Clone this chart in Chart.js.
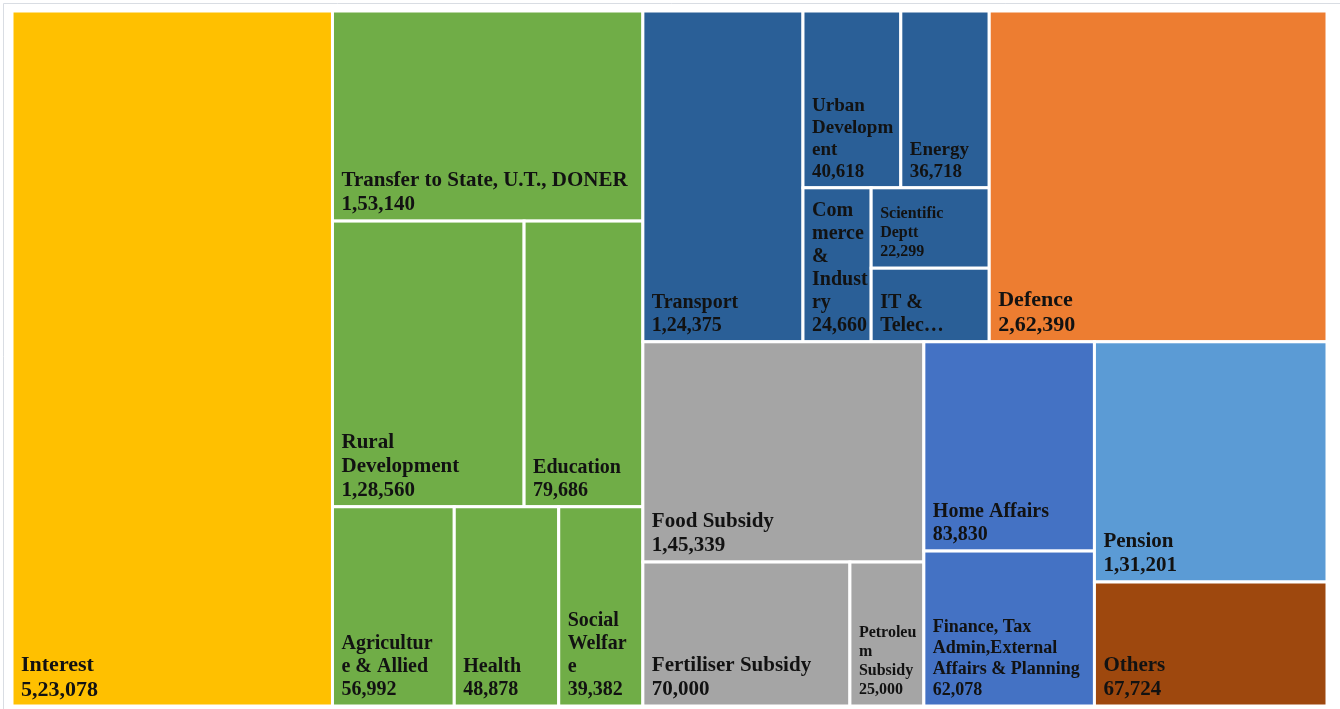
<!DOCTYPE html>
<html>
<head>
<meta charset="utf-8">
<script src="https://cdn.jsdelivr.net/npm/chart.js@4.4.1/dist/chart.umd.min.js"></script>
<style>
    html, body { margin: 0; padding: 0; background: #ffffff; }
    #wrap { position: relative; width: 1340px; height: 709px; }
</style>
</head>
<body>
<div id="wrap"><canvas id="treeChart"></canvas></div>
<script>
// Expenditure heads (Rs crore)
const categories = [
    'Interest', 'Transfer to State, U.T., DONER', 'Rural Development', 'Education',
    'Agriculture & Allied', 'Health', 'Social Welfare', 'Transport', 'Urban Development',
    'Energy', 'Commerce & Industry', 'Scientific Deptt', 'IT & Telecom', 'Defence',
    'Food Subsidy', 'Fertiliser Subsidy', 'Petroleum Subsidy', 'Home Affairs',
    'Finance, Tax Admin,External Affairs & Planning', 'Pension', 'Others'
];
const amounts = [
    523078, 153140, 128560, 79686, 56992, 48878, 39382, 124375, 40618,
    36718, 24660, 22299, 20400, 262390, 145339, 70000, 25000, 83830,
    62078, 131201, 67724
];
// label text as wrapped in the picture
const labelLines = [
    ['Interest'], ['Transfer to State, U.T., DONER'], ['Rural', 'Development'], ['Education'],
    ['Agricultur', 'e & Allied'], ['Health'], ['Social', 'Welfar', 'e'], ['Transport'],
    ['Urban', 'Developm', 'ent'], ['Energy'], ['Com', 'merce', '&', 'Indust', 'ry'],
    ['Scientific', 'Deptt'], ['IT &', 'Telec\u2026'], ['Defence'], ['Food Subsidy'],
    ['Fertiliser Subsidy'], ['Petroleu', 'm', 'Subsidy'], ['Home Affairs'],
    ['Finance, Tax', 'Admin,External', 'Affairs & Planning'], ['Pension'], ['Others']
];
// IT & Telecom label is cut off, so its value is not shown
const showValue = categories.map((c, i) => i !== 12);

// grouping: 'row' = side by side, 'col' = stacked
const tree = ['row',
    0,
    ['col', 1, ['row', 2, 3], ['row', 4, 5, 6]],
    ['col',
        ['row',
            ['row', 7, ['col', ['row', 8, 9], ['row', 10, ['col', 11, 12]]]],
            13],
        ['row',
            ['col', 14, ['row', 15, 16]],
            ['col', 17, 18],
            ['col', 19, 20]]
    ]
];

// styles
const cellColors = [
    '#FFC000', '#70AD47', '#70AD47', '#70AD47', '#70AD47', '#70AD47', '#70AD47',
    '#2A5F97', '#2A5F97', '#2A5F97', '#2A5F97', '#2A5F97', '#2A5F97', '#ED7D31',
    '#A5A5A5', '#A5A5A5', '#A5A5A5', '#4472C4', '#4472C4', '#5B9BD5', '#9E480E'
];
const fontSizes = [22, 21, 21, 20, 20, 20, 20, 20, 19, 19, 20, 16, 20, 22, 21, 21, 16, 20, 18, 21, 21];

function indianFormat(n) {
    const s = String(n);
    if (s.length <= 3) return s;
    let head = s.slice(0, -3);
    const tail = s.slice(-3);
    const parts = [];
    while (head.length > 2) {
        parts.unshift(head.slice(-2));
        head = head.slice(0, -2);
    }
    if (head) parts.unshift(head);
    return parts.join(',') + ',' + tail;
}

function nodeSum(n) {
    if (typeof n === 'number') return amounts[n];
    return n.slice(1).reduce((s, c) => s + nodeSum(c), 0);
}

// slice layout in data units (0..1 on both axes)
function place(n, x0, y0, x1, y1, out) {
    if (typeof n === 'number') {
        out[n] = { x0, y0, x1, y1 };
        return;
    }
    const total = nodeSum(n);
    let pos = n[0] === 'row' ? x0 : y0;
    n.slice(1).forEach(child => {
        const frac = nodeSum(child) / total;
        if (n[0] === 'row') {
            const end = pos + (x1 - x0) * frac;
            place(child, pos, y0, end, y1, out);
            pos = end;
        } else {
            const end = pos + (y1 - y0) * frac;
            place(child, x0, pos, x1, end, out);
            pos = end;
        }
    });
}

const cells = [];
place(tree, 0, 0, 1, 1, cells);

const treemapPlugin = {
    id: 'treemapCells',
    beforeDraw(chart) {
        const c = chart.ctx;
        c.save();
        c.fillStyle = '#ffffff';
        c.fillRect(0, 0, chart.width, chart.height);
        c.strokeStyle = '#d9dde3';
        c.lineWidth = 1;
        c.beginPath();
        c.moveTo(3.5, chart.height);
        c.lineTo(3.5, 3.5);
        c.lineTo(chart.width, 3.5);
        c.stroke();
        c.restore();
    },
    afterDatasetsDraw(chart) {
        const c = chart.ctx;
        const xs = chart.scales.x;
        const ys = chart.scales.y;
        c.save();
        cells.forEach((r, i) => {
            const left = xs.getPixelForValue(r.x0);
            const right = xs.getPixelForValue(r.x1);
            const top = ys.getPixelForValue(r.y0);
            const bottom = ys.getPixelForValue(r.y1);
            c.fillStyle = cellColors[i];
            c.fillRect(left, top, right - left, bottom - top);
            c.strokeStyle = '#ffffff';
            c.lineWidth = 3;
            c.strokeRect(left, top, right - left, bottom - top);
        });
        c.fillStyle = '#121212';
        c.textAlign = 'left';
        c.textBaseline = 'middle';
        cells.forEach((r, i) => {
            const left = xs.getPixelForValue(r.x0);
            const bottom = ys.getPixelForValue(r.y1);
            const size = fontSizes[i];
            const lh = size + 3;
            const lines = labelLines[i].slice();
            if (showValue[i]) lines.push(indianFormat(amounts[i]));
            c.font = 'bold ' + size + 'px "Liberation Serif", "Times New Roman", serif';
            let y = bottom - 16 - (lines.length - 1) * lh;
            lines.forEach(t => {
                c.fillText(t, left + 9, y);
                y += lh;
            });
        });
        c.restore();
    }
};

const ctx = document.getElementById('treeChart');
const treeChart = new Chart(ctx, {
    type: 'scatter',
    data: {
        datasets: [{ label: 'Expenditure', data: [] }]
    },
    options: {
        responsive: true,
        maintainAspectRatio: false,
        animation: false,
        layout: {
            padding: { left: 12, top: 11, right: 13, bottom: 3 }
        },
        plugins: {
            legend: { display: false },
            tooltip: { enabled: false }
        },
        scales: {
            x: { type: 'linear', min: 0, max: 1, display: false },
            y: { type: 'linear', min: 0, max: 1, reverse: true, display: false }
        }
    },
    plugins: [treemapPlugin]
});
</script>
</body>
</html>
